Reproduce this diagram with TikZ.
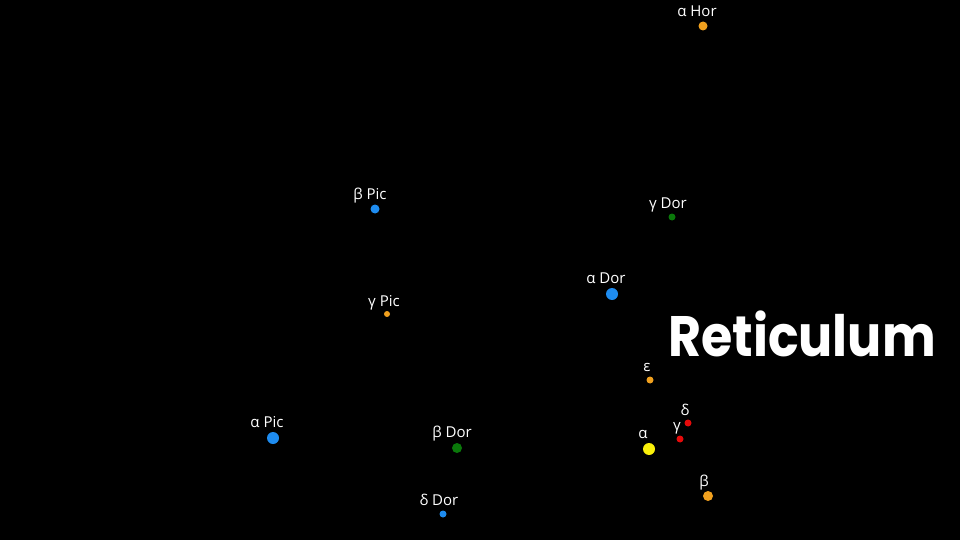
\documentclass[tikz,border=0pt]{standalone}
\usepackage{fontspec}
\setmainfont{Open Sans}
\newfontfamily\titlefont{Poppins}
\definecolor{sorange}{RGB}{240,160,30}
\definecolor{sblue}{RGB}{30,140,240}
\definecolor{sgreen}{RGB}{10,120,10}
\definecolor{sred}{RGB}{230,10,10}
\definecolor{syellow}{RGB}{250,240,10}
\tikzset{
  star/.style={circle,inner sep=0pt,minimum size=#1},
  lbl/.style={text=white,font=\fontsize{15}{15}\selectfont,inner sep=0pt,anchor=base}
}
\begin{document}
\begin{tikzpicture}[x=1pt,y=-1pt]
\fill[black] (0,0) rectangle (960,540);
\useasboundingbox (0,0) rectangle (960,540);
% stars
\node[star=9pt,fill=sorange] (aHor) at (703,26) {};
\node[lbl] (laHor) at (697,17) {α Hor};
\node[star=9pt,fill=sblue] (bPic) at (375,209) {};
\node[lbl] (lbPic) at (370,200) {β Pic};
\node[star=7pt,fill=sgreen] (gDor) at (672,217) {};
\node[lbl] (lgDor) at (668,208) {γ Dor};
\node[star=12pt,fill=sblue] (aDor) at (612,294) {};
\node[lbl] (laDor) at (606,283) {α Dor};
\node[star=6pt,fill=sorange] (gPic) at (387,314) {};
\node[lbl] (lgPic) at (384,306) {γ Pic};
\node[star=7pt,fill=sorange] (eps) at (650,380) {};
\node[lbl] (leps) at (647,371) {ε};
\node[star=7pt,fill=sred] (del) at (688,423) {};
\node[lbl] (ldel) at (685,415) {δ};
\node[star=7pt,fill=sred] (gam) at (680,439) {};
\node[lbl] (lgam) at (677,430) {γ};
\node[star=12pt,fill=syellow] (alp) at (649,449) {};
\node[lbl] (lalp) at (643,438) {α};
\node[star=10pt,fill=sorange] (bet) at (708,496) {};
\node[lbl] (lbet) at (704,486) {β};
\node[star=12pt,fill=sblue] (aPic) at (273,438) {};
\node[lbl] (laPic) at (267,427) {α Pic};
\node[star=10pt,fill=sgreen] (bDor) at (457,448) {};
\node[lbl] (lbDor) at (452,437) {β Dor};
\node[star=7pt,fill=sblue] (dDor) at (443,514) {};
\node[lbl] (ldDor) at (439,505) {δ Dor};
% title
\node[text=white,font=\titlefont\bfseries\fontsize{57}{57}\selectfont,inner sep=0pt,anchor=base] (title) at (802,356) {\scalebox{0.89}[1]{Reticulum}};
\end{tikzpicture}
\end{document}
